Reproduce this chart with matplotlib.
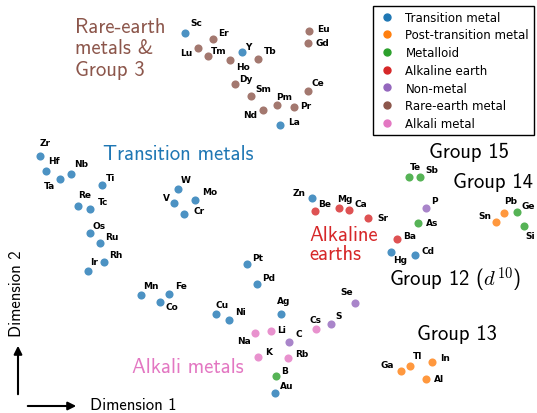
import matplotlib
matplotlib.use("Agg")
import matplotlib.pyplot as plt
from matplotlib.lines import Line2D

# element positions (pixel units, y grows downward)
elements = ["Sc", "Er", "Lu", "Tm", "Y", "Ho", "Tb", "Eu", "Gd", "Dy", "Sm", "Ce", "Pm", "Pr", "Nd", "La",
            "Zr", "Hf", "Nb", "Ta", "Ti", "Re", "Tc", "W", "V", "Mo", "Cr", "Os", "Ru", "Rh", "Ir",
            "Pt", "Pd", "Cu", "Ni", "Ag", "Mn", "Fe", "Co", "Au", "Zn", "Cd", "Hg",
            "Na", "Li", "K", "Rb", "Cs", "Be", "Mg", "Ca", "Sr", "Ba",
            "C", "S", "Se", "P", "B", "Te", "Sb", "As", "Ge", "Si",
            "Sn", "Pb", "Ga", "Tl", "In", "Al"]
dim1 = [185, 213, 198, 208, 242, 230, 258, 309, 308, 235, 251, 308, 277, 294, 263, 280,
        40, 46, 71, 60, 102, 78, 90, 178, 174, 195, 184, 90, 100, 104, 88,
        247, 257, 216, 229, 281, 141, 169, 160, 275, 312, 415, 391,
        255, 271, 258, 288, 316, 315, 339, 349, 368, 397,
        289, 331, 355, 426, 276, 409, 420, 418, 517, 524,
        496, 504, 401, 410, 432, 426]
dim2 = [34, 40, 49, 57, 53, 61, 60, 32, 44, 85, 97, 92, 106, 108, 111, 126,
        157, 172, 175, 180, 186, 207, 210, 190, 204, 201, 215, 234, 244, 263, 272,
        265, 285, 315, 321, 315, 296, 295, 303, 394, 199, 256, 253,
        334, 332, 358, 359, 330, 212, 209, 211, 219, 240,
        343, 325, 304, 209, 377, 178, 178, 224, 213, 227,
        223, 214, 372, 367, 363, 380]
kind = (["Transition metal"] + ["Rare-earth metal"] * 3 + ["Transition metal"] + ["Rare-earth metal"] * 10
        + ["Transition metal"] * 28
        + ["Alkali metal"] * 5 + ["Alkaline earth"] * 5
        + ["Non-metal"] * 4 + ["Metalloid"] * 6
        + ["Post-transition metal"] * 6)

categories = ["Transition metal", "Post-transition metal", "Metalloid", "Alkaline earth",
              "Non-metal", "Rare-earth metal", "Alkali metal"]
colors = ["#1f77b4", "#ff7f0e", "#2ca02c", "#d62728", "#9467bd", "#8c564b", "#e377c2"]

# label offsets in pixels (dx, dy with y downward)
offsets = {
    "Sc": (11, -10), "Er": (10, -6), "Lu": (-12, 4), "Tm": (11, -6), "Y": (6, -6), "Ho": (13, 6),
    "Tb": (12, -8), "Eu": (14, -2), "Gd": (14, -1), "Dy": (11, -6), "Sm": (12, -8), "Ce": (10, -9),
    "Pm": (7, -8), "Pr": (12, -1), "Nd": (-13, 5), "La": (14, -3),
    "Zr": (5, -13), "Hf": (8, -10), "Nb": (10, -10), "Ta": (-10, 7), "Ti": (9, -7), "Re": (7, -11),
    "Tc": (13, -7), "W": (8, -9), "V": (-8, -5), "Mo": (15, -8), "Cr": (15, -3), "Os": (9, -7),
    "Ru": (12, -6), "Rh": (12, -7), "Ir": (6, -9), "Pt": (11, -6), "Pd": (12, -6), "Cu": (6, -9),
    "Ni": (12, -8), "Ag": (3, -13), "Mn": (10, -9), "Fe": (12, -8), "Co": (12, 5), "Au": (12, -7),
    "Zn": (-13, -5), "Cd": (13, -4), "Hg": (9, 8),
    "Na": (-11, 8), "Li": (11, -1), "K": (11, -5), "Rb": (14, -4), "Cs": (0, -9),
    "Be": (10, -7), "Mg": (6, -9), "Ca": (12, -6), "Sr": (15, 0), "Ba": (13, -3),
    "C": (10, -8), "S": (8, -8), "Se": (-8, -11), "P": (8, -7), "B": (9, -5), "Te": (6, -10),
    "Sb": (12, -7), "As": (14, 0), "Ge": (11, -6), "Si": (6, 10),
    "Sn": (-11, -6), "Pb": (7, -12), "Ga": (-14, -6), "Tl": (8, -10), "In": (13, -4), "Al": (13, 0),
}

plt.rcParams["mathtext.fontset"] = "cm"
fig = plt.figure(figsize=(5.37, 4.14), dpi=100)
ax = fig.add_axes([0, 0, 1, 1])
ax.set_xlim(0, 537)
ax.set_ylim(414, 0)
ax.axis("off")

for cat, col in zip(categories, colors):
    xs = [x for x, k in zip(dim1, kind) if k == cat]
    ys = [y for y, k in zip(dim2, kind) if k == cat]
    ax.scatter(xs, ys, s=34, color=col, alpha=0.8, linewidths=0, zorder=3)

for el, x, y in zip(elements, dim1, dim2):
    dx, dy = offsets[el]
    ax.text(x + dx, y + dy, el, fontsize=6.5, fontweight="bold", ha="center", va="center")

grp = dict(fontsize=14.9, family="cmss10", va="center", ha="left")
ax.text(75, 49, "Rare-earth\nmetals &\nGroup 3", color="#8c564b", linespacing=1.15, **grp)
ax.text(103, 155, "Transition metals", color="#1f77b4", **grp)
ax.text(309, 245, "Alkaline\nearths", color="#d62728", linespacing=1.05, **grp)
ax.text(132, 368, "Alkali metals", color="#e377c2", **grp)
ax.text(429, 152, "Group 15", color="black", **grp)
ax.text(453, 183, "Group 14", color="black", **grp)
ax.text(389, 280, r"Group 12 ($d^{10}$)", color="black", **grp)
ax.text(417, 335, "Group 13", color="black", **grp)

# dimension arrows
ax.annotate("", xy=(79, 407), xytext=(25, 407),
            arrowprops=dict(arrowstyle="-|>", color="black", lw=1.5, mutation_scale=12))
ax.annotate("", xy=(18, 344), xytext=(18, 398),
            arrowprops=dict(arrowstyle="-|>", color="black", lw=1.5, mutation_scale=12))
ax.text(90, 406, "Dimension 1", fontsize=12, family="cmss10", va="center", ha="left")
ax.text(17, 294, "Dimension 2", fontsize=12, family="cmss10", va="center", ha="center",
        rotation=90)

handles = [Line2D([], [], marker="o", ls="", color=c, markersize=5) for c in colors]
leg = ax.legend(handles, categories, loc="upper left", bbox_to_anchor=(373 / 537, 1 - 7 / 414),
                bbox_transform=fig.transFigure, borderaxespad=0, fontsize=8.5, fancybox=False,
                framealpha=1, edgecolor="black", handletextpad=0.75, handlelength=1.6,
                labelspacing=0.4)
leg.get_frame().set_linewidth(1.0)

fig.savefig("out.png", dpi=100)
